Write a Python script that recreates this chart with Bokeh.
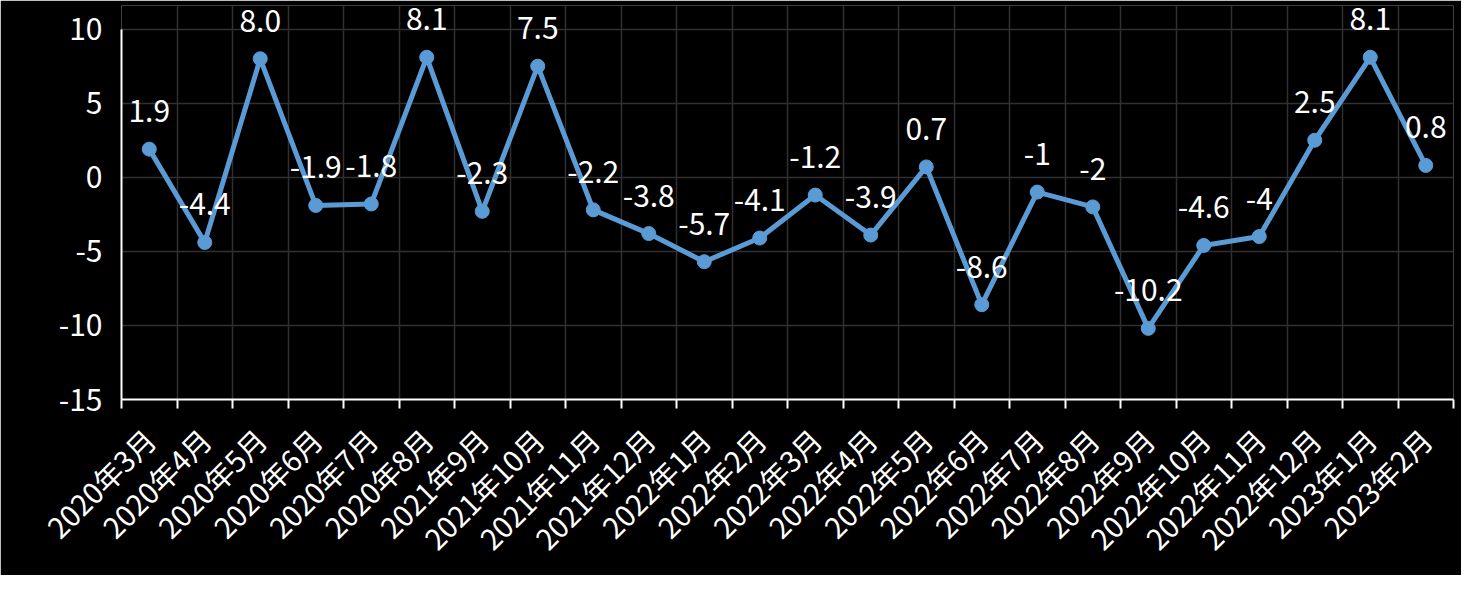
import numpy as np
from bokeh.plotting import figure
from bokeh.models import FixedTicker, Range1d, ColumnDataSource, LabelSet
from bokeh.embed import file_html
from bokeh.resources import INLINE
from bokeh.core.properties import value

categories = ["2020年3月", "2020年4月", "2020年5月", "2020年6月", "2020年7月", "2020年8月",
              "2021年9月", "2021年10月", "2021年11月", "2021年12月",
              "2022年1月", "2022年2月", "2022年3月", "2022年4月", "2022年5月", "2022年6月",
              "2022年7月", "2022年8月", "2022年9月", "2022年10月", "2022年11月", "2022年12月",
              "2023年1月", "2023年2月"]
values = [1.9, -4.4, 8.0, -1.9, -1.8, 8.1, -2.3, 7.5, -2.2, -3.8, -5.7, -4.1,
          -1.2, -3.9, 0.7, -8.6, -1, -2, -10.2, -4.6, -4, 2.5, 8.1, 0.8]
value_labels = ["1.9", "-4.4", "8.0", "-1.9", "-1.8", "8.1", "-2.3", "7.5", "-2.2", "-3.8",
                "-5.7", "-4.1", "-1.2", "-3.9", "0.7", "-8.6", "-1", "-2", "-10.2", "-4.6",
                "-4", "2.5", "8.1", "0.8"]
y_ticks = [-15, -10, -5, 0, 5, 10]
y_tick_labels = ["-15", "-10", "-5", "0", "5", "10"]
y_min, y_max = -15, 10

n = len(categories)
xs = np.arange(n) + 0.5
src = ColumnDataSource(dict(x=xs, y=values, t=value_labels))

FONT = "Noto Sans CJK SC"
COLOR = "#5B9BD5"

W, H = 1461, 575
top_border, bottom_border = 5, 170
frame_h = H - top_border - bottom_border
extra_px = 24  # headroom above the top tick so data labels are not clipped
frac = extra_px / frame_h
y_end = (y_max - frac * y_min) / (1 - frac)

p = figure(width=W, height=H, output_backend="svg", toolbar_location=None,
           x_range=Range1d(0, n), y_range=Range1d(y_min, y_end),
           background_fill_color="black", border_fill_color="black",
           min_border_left=121, min_border_right=8, min_border_top=top_border,
           min_border_bottom=bottom_border)
p.outline_line_color = None

# x axis
p.xaxis.ticker = FixedTicker(ticks=list(xs), minor_ticks=list(range(n + 1)))
p.xaxis.major_label_overrides = {float(x): c for x, c in zip(xs, categories)}
p.xaxis.major_label_orientation = np.pi / 4
p.xaxis.major_tick_line_color = None
p.xaxis.minor_tick_line_color = "white"
p.xaxis.minor_tick_line_width = 2
p.xaxis.minor_tick_out = 9
p.xaxis.minor_tick_in = 0
p.xaxis.axis_line_color = "white"
p.xaxis.axis_line_width = 2
p.xaxis.major_label_text_color = "white"
p.xaxis.major_label_text_font = FONT
p.xaxis.major_label_text_font_size = "29px"
p.xaxis.major_label_standoff = 25

# y axis
p.yaxis.ticker = FixedTicker(ticks=y_ticks)
p.yaxis.bounds = (y_min, y_max)
p.yaxis.major_label_overrides = {t: s for t, s in zip(y_ticks, y_tick_labels)}
p.yaxis.axis_line_color = "white"
p.yaxis.axis_line_width = 2
p.yaxis.major_tick_line_color = None
p.yaxis.minor_tick_line_color = None
p.yaxis.major_label_text_color = "white"
p.yaxis.major_label_text_font = FONT
p.yaxis.major_label_text_font_size = "30px"
p.yaxis.major_label_standoff = 13

# grids
p.xgrid.ticker = FixedTicker(ticks=list(range(n + 1)))
p.xgrid.bounds = (y_min, y_max)
p.xgrid.grid_line_color = "#303030"
p.xgrid.grid_line_width = 1.5
p.ygrid.grid_line_color = "#303030"
p.ygrid.grid_line_width = 1.5

p.line("x", "y", source=src, line_color=COLOR, line_width=5)
p.scatter("x", "y", source=src, size=14, fill_color=COLOR, line_color=COLOR)

labels = LabelSet(x="x", y="y", text="t", source=src, text_color="white",
                  text_font=value(FONT), text_font_size="30px", text_align="center",
                  text_baseline="middle", y_offset=38)
p.add_layout(labels)

open("out.html", "w").write(file_html(p, INLINE))
